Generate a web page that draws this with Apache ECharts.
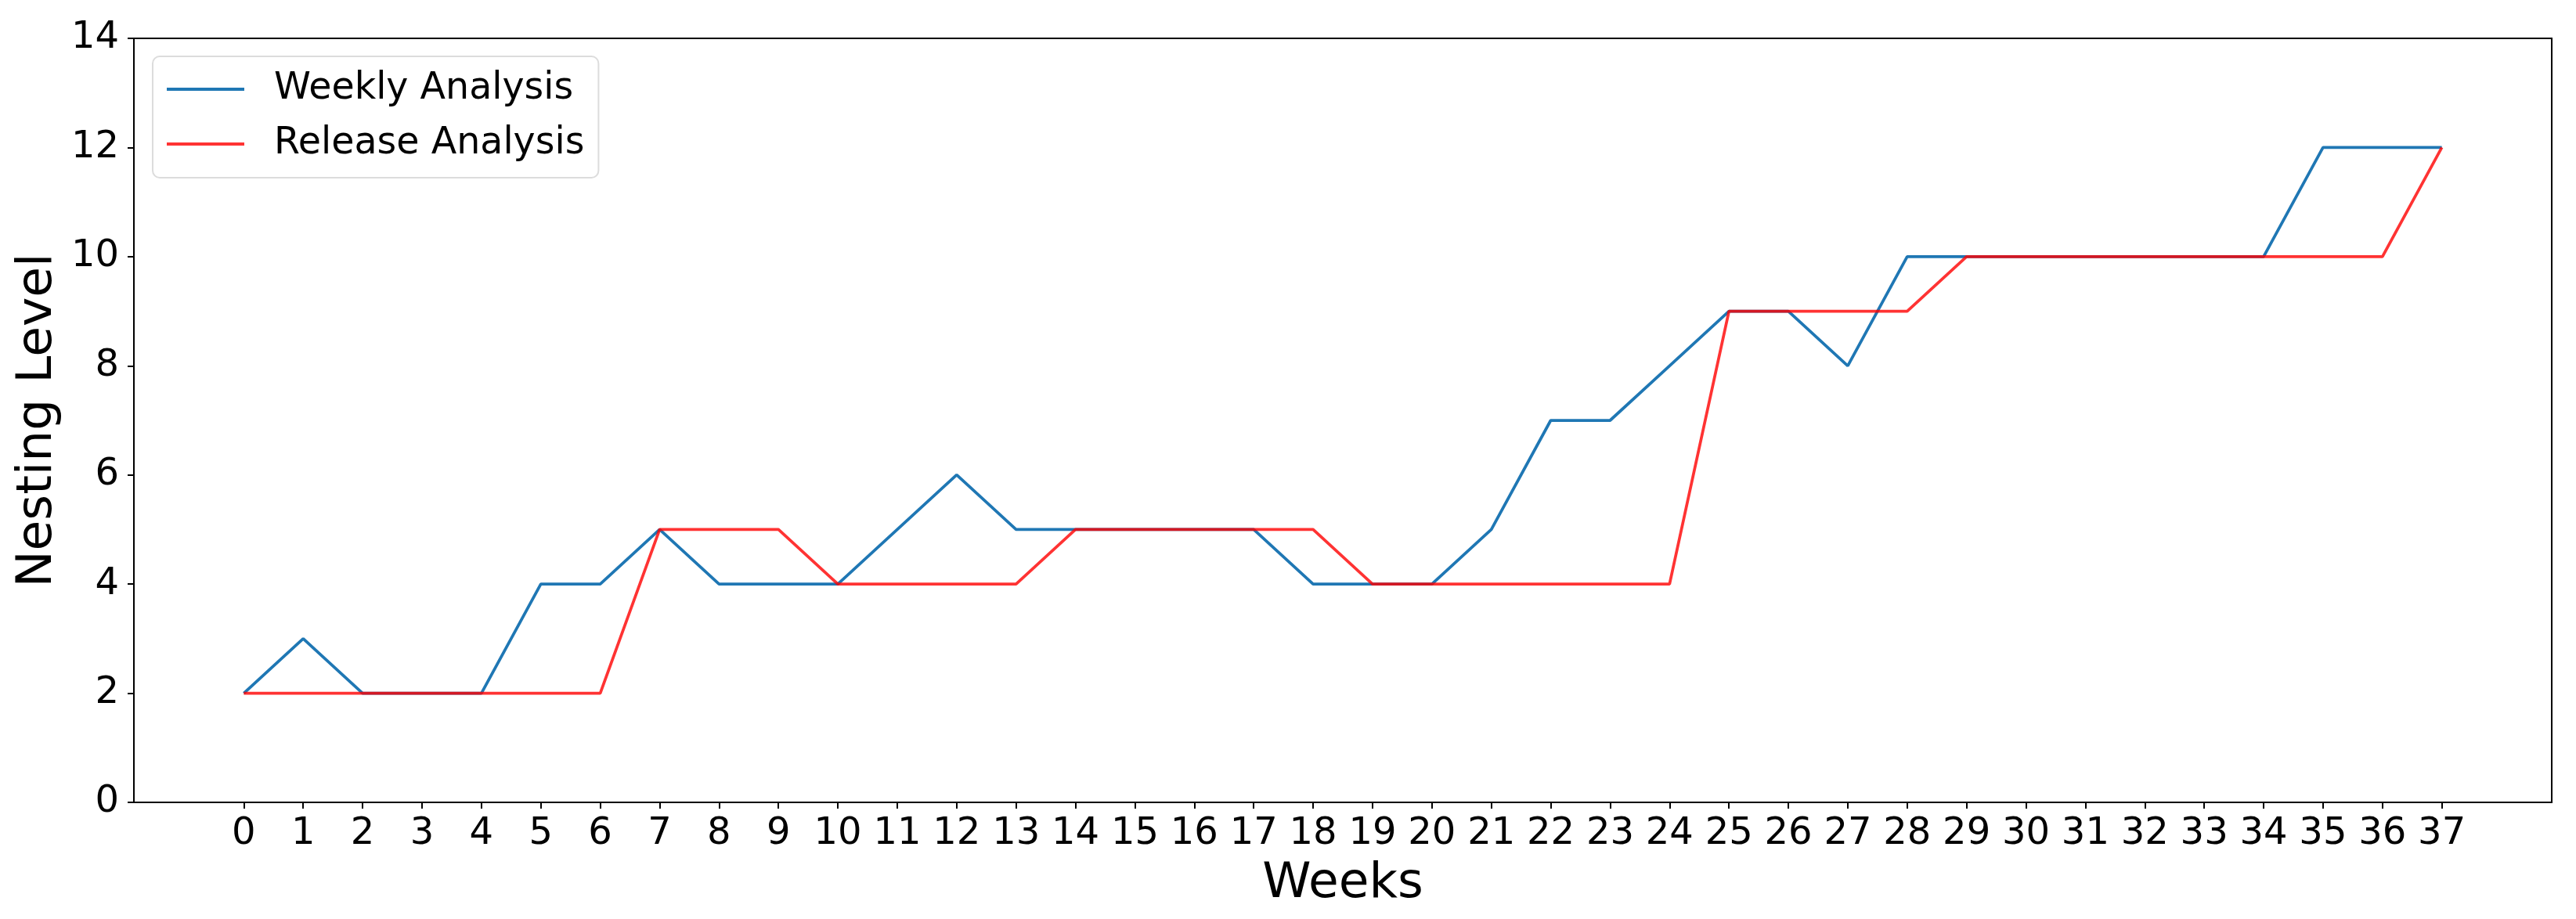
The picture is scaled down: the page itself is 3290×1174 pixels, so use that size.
<!DOCTYPE html>
<html>
<head>
<meta charset="utf-8">
<script src="https://cdn.jsdelivr.net/npm/echarts@6/dist/echarts.min.js"></script>
<style>
html,body{margin:0;padding:0;background:#fff;}
#chart{width:3290px;height:1174px;}
</style>
</head>
<body>
<div id="chart"></div>
<script>
const weeks = [0,1,2,3,4,5,6,7,8,9,10,11,12,13,14,15,16,17,18,19,20,21,22,23,24,25,26,27,28,29,30,31,32,33,34,35,36,37];
const weeklyAnalysis = [2,3,2,2,2,4,4,5,4,4,4,5,6,5,5,5,5,5,4,4,4,5,7,7,8,9,9,8,10,10,10,10,10,10,10,12,12,12];
const releaseAnalysis = [2,2,2,2,2,2,2,5,5,5,4,4,4,4,5,5,5,5,5,4,4,4,4,4,4,9,9,9,9,10,10,10,10,10,10,10,10,12];
const seriesNames = ['Weekly Analysis', 'Release Analysis'];
const xAxisTitle = 'Weeks';
const yAxisTitle = 'Nesting Level';

const FONT = 'DejaVu Sans';
const chart = echarts.init(document.getElementById('chart'), null, {renderer: 'canvas'});
chart.setOption({
  animation: false,
  backgroundColor: '#ffffff',
  grid: {
    left: 171, top: 49, right: 31, bottom: 149,
    show: true, borderColor: '#000', borderWidth: 2, backgroundColor: 'transparent'
  },
  legend: {
    left: 195, top: 72,
    orient: 'vertical',
    data: seriesNames.map(n => ({name: n, icon: 'rect'})),
    itemWidth: 99, itemHeight: 4, itemGap: 14,
    padding: [14, 18, 15, 18],
    backgroundColor: '#fff',
    borderColor: '#dcdcdc', borderWidth: 2, borderRadius: 9,
    textStyle: {fontFamily: FONT, fontSize: 47.5, color: '#000', lineHeight: 56, padding: [0, 0, 0, 33]}
  },
  xAxis: {
    type: 'value', min: -1.85, max: 38.85,
    name: xAxisTitle, nameLocation: 'middle', nameGap: 73,
    nameTextStyle: {fontFamily: FONT, fontSize: 63, color: '#000'},
    axisLine: {show: true, onZero: false, lineStyle: {color: '#000', width: 2}},
    axisTick: {show: true, customValues: weeks, length: 8, inside: false, lineStyle: {color: '#000', width: 2}},
    axisLabel: {customValues: weeks, fontFamily: FONT, fontSize: 48, color: '#000', margin: 17},
    splitLine: {show: false}
  },
  yAxis: {
    type: 'value', min: 0, max: 14, interval: 2,
    name: yAxisTitle, nameLocation: 'middle', nameGap: 82, nameRotate: 90,
    nameTextStyle: {fontFamily: FONT, fontSize: 63, color: '#000'},
    axisLine: {show: true, onZero: false, lineStyle: {color: '#000', width: 2}},
    axisTick: {show: true, length: 8, lineStyle: {color: '#000', width: 2}},
    axisLabel: {fontFamily: FONT, fontSize: 48, color: '#000', margin: 19},
    splitLine: {show: false}
  },
  series: [
    {
      name: seriesNames[0], type: 'line', symbol: 'none',
      data: weeks.map((w, i) => [w, weeklyAnalysis[i]]),
      lineStyle: {color: '#1f77b4', width: 3.75},
      itemStyle: {color: '#1f77b4'}
    },
    {
      name: seriesNames[1], type: 'line', symbol: 'none',
      data: weeks.map((w, i) => [w, releaseAnalysis[i]]),
      lineStyle: {color: 'rgba(255,0,0,0.8)', width: 3.75},
      itemStyle: {color: 'rgba(255,0,0,0.8)'}
    }
  ]
});
</script>
</body>
</html>
